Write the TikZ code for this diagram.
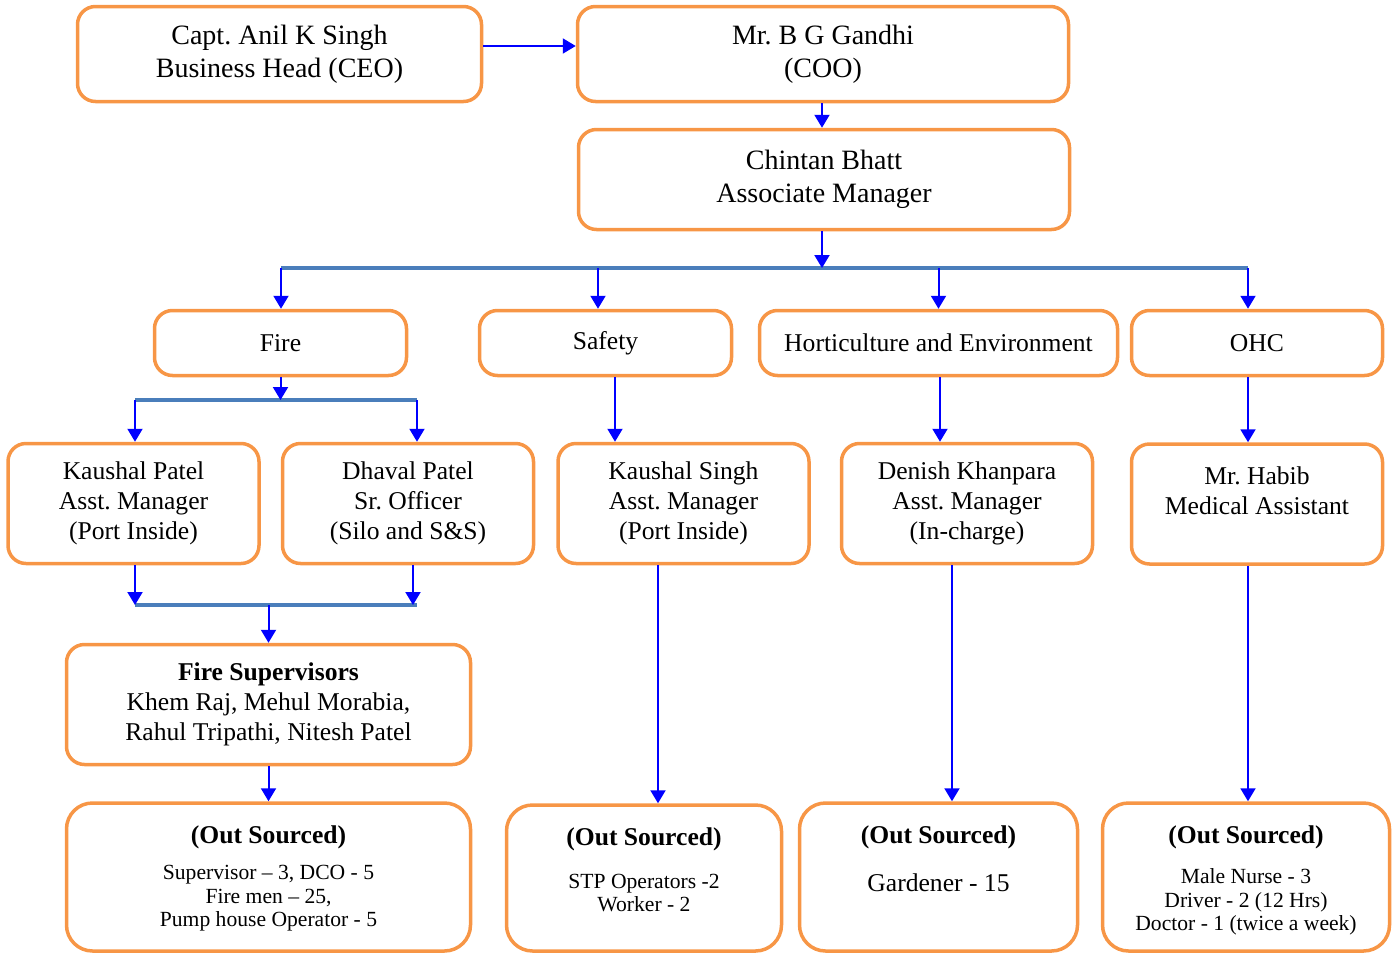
\documentclass[tikz,border=0pt]{standalone}
\usepackage{fontspec}
\setmainfont{Liberation Serif}
\usepackage{xcolor}
\usepackage{tikz}
\usetikzlibrary{positioning, arrows.meta, calc}
\frenchspacing

\definecolor{boxorange}{HTML}{F79646}
\definecolor{barblue}{HTML}{4A7EBB}

\begin{document}
\begin{tikzpicture}[x=0.5pt, y=-0.5pt,
  box/.style={draw=boxorange, line width=1.75pt, rounded corners=9pt, align=center, inner sep=2pt},
  outbox/.style={box, rounded corners=13pt},
  bigtext/.style={font=\fontsize{14}{16.5}\selectfont},
  midtext/.style={font=\fontsize{12.8}{15}\selectfont},
  smalltext/.style={font=\fontsize{10.8}{11.75}\selectfont, align=center},
  arr/.style={draw=blue, line width=1pt, -{Triangle[width=7.5pt,length=6.5pt]}},
  bar/.style={draw=barblue, line width=2pt}]
\useasboundingbox (0,0) rectangle (1396,953);

% top
\node[box, bigtext, minimum width=202pt, minimum height=47.5pt] (ceo) at (279.5,54) {Capt. Anil K Singh\\Business Head (CEO)};
\node[box, bigtext, minimum width=245.5pt, minimum height=47.5pt] (coo) at (823,54) {Mr. B G Gandhi\\(COO)};
\node[box, bigtext, minimum width=245.5pt, minimum height=50pt] (chintan) at (824,179.5) {Chintan Bhatt\\Associate Manager};

% departments
\node[box, midtext, minimum width=126pt, minimum height=32.5pt] (fire) at (280.5,343) {Fire};
\node[box, midtext, minimum width=126pt, minimum height=32.5pt] (safety) at (605.5,343) {Safety};
\node[box, midtext, minimum width=179pt, minimum height=32.5pt] (hort) at (938.5,343) {Horticulture and Environment};
\node[box, midtext, minimum width=125.5pt, minimum height=32.5pt] (ohc) at (1257,343) {OHC};

% managers
\node[box, midtext, minimum width=125.5pt, minimum height=60pt] (kpatel) at (133.5,503.5) {Kaushal Patel\\Asst. Manager\\(Port Inside)};
\node[box, midtext, minimum width=125.5pt, minimum height=60pt] (dpatel) at (408,503.5) {Dhaval Patel\\Sr. Officer\\(Silo and S\&S)};
\node[box, midtext, minimum width=125.5pt, minimum height=60pt] (ksingh) at (683.5,503.5) {Kaushal Singh\\Asst. Manager\\(Port Inside)};
\node[box, midtext, minimum width=125.5pt, minimum height=60pt] (denish) at (967,503.5) {Denish Khanpara\\Asst. Manager\\(In-charge)};
\node[box, minimum width=125.5pt, minimum height=60pt] (habib) at (1257,504) {};
\node[midtext, align=center] (habibtxt) at ($(habib.north)+(0,48)$) {Mr. Habib\\Medical Assistant};

\node[box, midtext, minimum width=202pt, minimum height=60pt] (firesup) at (268.5,704.5) {\textbf{Fire Supervisors}\\Khem Raj, Mehul Morabia,\\Rahul Tripathi, Nitesh Patel};

% out sourced
\node[outbox, minimum width=202pt, minimum height=74pt] (out1) at (268.5,877) {};
\node[outbox, minimum width=137.5pt, minimum height=73pt] (out2) at (644,878) {};
\node[outbox, minimum width=139pt, minimum height=74pt] (out3) at (938.5,877) {};
\node[outbox, minimum width=143.5pt, minimum height=74pt] (out4) at (1246,877) {};
\node[midtext] (out1head) at ($(out1.north)+(0,36.5)$) {\textbf{(Out Sourced)}};
\node[midtext] (out2head) at ($(out2.north)+(0,36.5)$) {\textbf{(Out Sourced)}};
\node[midtext] (out3head) at ($(out3.north)+(0,36.5)$) {\textbf{(Out Sourced)}};
\node[midtext] (out4head) at ($(out4.north)+(0,36.5)$) {\textbf{(Out Sourced)}};
\node[smalltext] (out1txt) at ($(out1.north)+(0,97)$) {Supervisor -- 3, DCO - 5\\Fire men -- 25,\\Pump house Operator - 5};
\node[smalltext] (out2txt) at ($(out2.north)+(0,89.5)$) {STP Operators -2\\Worker - 2};
\node[midtext] (out3txt) at ($(out3.north)+(0,81.5)$) {Gardener - 15};
\node[smalltext] (out4txt) at ($(out4.north)+(0,101)$) {Male Nurse - 3\\Driver - 2 (12 Hrs)\\Doctor - 1 (twice a week)};

% bars
\coordinate (bar1l) at (281,268);
\coordinate (bar1r) at (1248,268);
\coordinate (bar2l) at (135,400);
\coordinate (bar2r) at (417,400);
\coordinate (bar3l) at (135,605);
\coordinate (bar3r) at (417,605);
\draw[bar] (bar1l) -- (bar1r);
\draw[bar] (bar2l) -- (bar2r);
\draw[bar] (bar3l) -- (bar3r);

% arrows
\draw[arr] ([yshift=4pt]ceo.east) -- ([yshift=4pt]ceo.east -| coo.west);
\draw[arr] ([xshift=-0.5pt]coo.south) -- ([xshift=-0.5pt]coo.south |- chintan.north);
\draw[arr] ([xshift=-1pt]chintan.south) -- ([xshift=-1pt]chintan.south |- bar1l);
\draw[arr] (bar1l) -- (bar1l |- fire.north);
\draw[arr] ([xshift=-3.75pt]safety.north |- bar1l) -- ([xshift=-3.75pt]safety.north);
\draw[arr] (hort.north |- bar1l) -- (hort.north);
\draw[arr] (bar1r) -- (bar1r |- ohc.north);

\draw[arr] (fire.south) -- (fire.south |- bar2l);
\draw[arr] (bar2l) -- (bar2l |- kpatel.north);
\draw[arr] (bar2r) -- (bar2r |- dpatel.north);
\draw[arr] (kpatel.south -| bar3l) -- (bar3l);
\draw[arr] ([xshift=2.5pt]dpatel.south) -- ([xshift=2.5pt]dpatel.south |- bar3l);
\draw[arr] (firesup.north |- bar3l) -- (firesup.north);
\draw[arr] (firesup.south) -- (firesup.south |- out1.north);

\draw[arr] ([xshift=4.75pt]safety.south) -- ([xshift=4.75pt]safety.south |- ksingh.north);
\draw[arr] ([xshift=-12.75pt]ksingh.south) -- ([xshift=-12.75pt]ksingh.south |- out2.north);
\draw[arr] ([xshift=0.75pt]hort.south) -- ([xshift=0.75pt]hort.south |- denish.north);
\draw[arr] ([xshift=-7.5pt]denish.south) -- ([xshift=-7.5pt]denish.south |- out3.north);
\draw[arr] (bar1r |- ohc.south) -- (bar1r |- habib.north);
\draw[arr] (bar1r |- habib.south) -- (bar1r |- out4.north);
\end{tikzpicture}
\end{document}
